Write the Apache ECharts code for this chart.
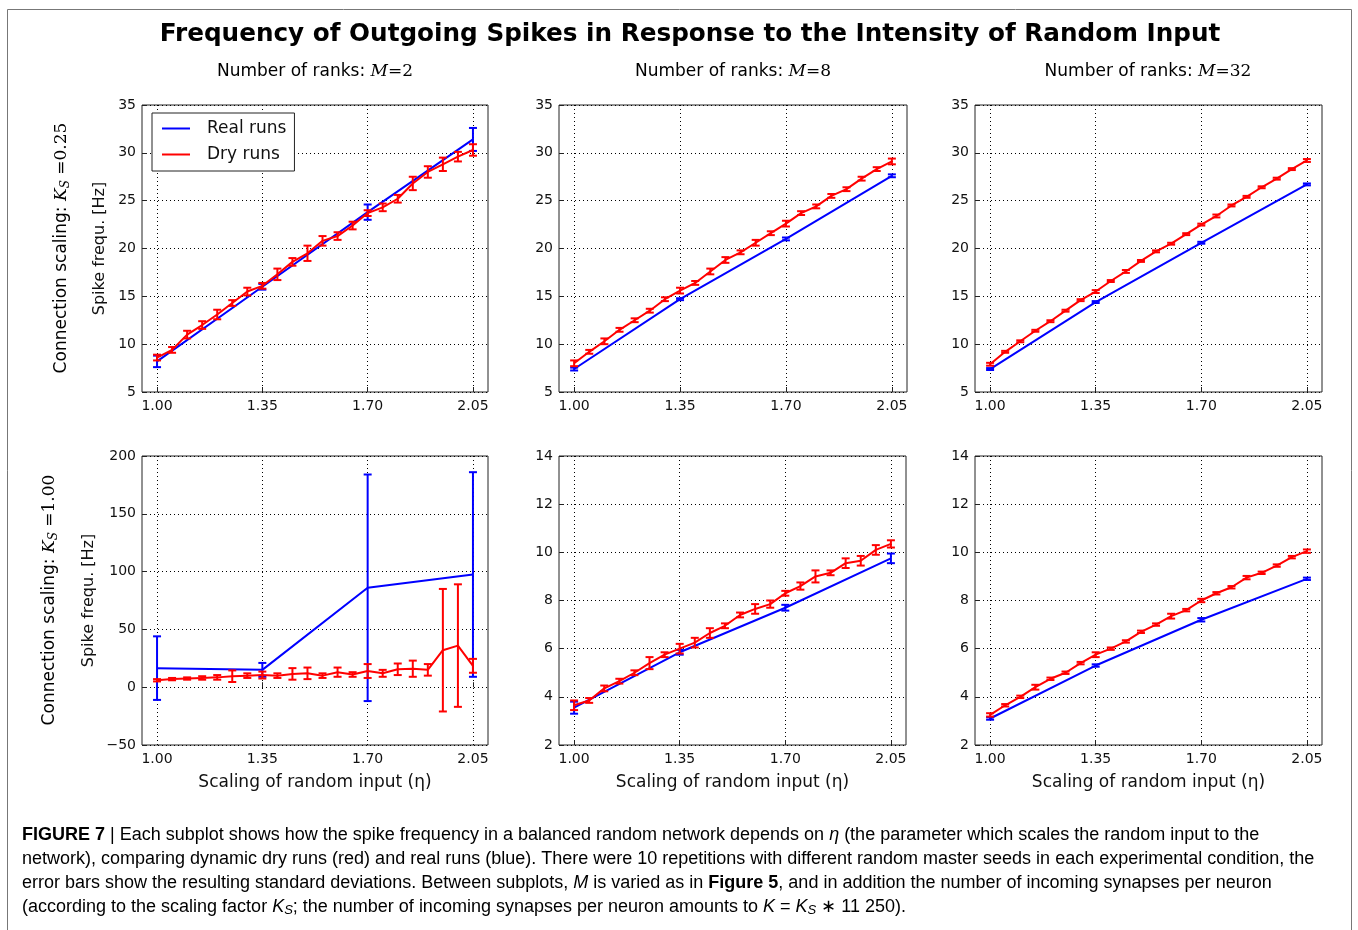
<!DOCTYPE html>
<html>
<head>
<meta charset="utf-8">
<title>Frequency of Outgoing Spikes</title>
<script src="https://cdn.jsdelivr.net/npm/echarts@6/dist/echarts.min.js"></script>
<style>
  html, body { margin: 0; padding: 0; background: #fff; }
  #chart { width: 1358px; height: 930px; }
</style>
</head>
<body>
<div id="chart"></div>
<script>
// scaling of random input (eta)
const etaDry = [1.00, 1.05, 1.10, 1.15, 1.20, 1.25, 1.30, 1.35, 1.40, 1.45, 1.50,
  1.55, 1.60, 1.65, 1.70, 1.75, 1.80, 1.85, 1.90, 1.95, 2.00, 2.05];
const etaReal = [1.00, 1.35, 1.70, 2.05];
const xTicks = [1.00, 1.35, 1.70, 2.05];

// Ks = 0.25, M = 2
const realA2 = [8.2, 16.0, 23.8, 31.4];
const realErrA2 = [0.6, 0.3, 0.8, 1.2];
const dryA2 = [8.6, 9.4, 11.0, 12.0, 13.1, 14.3, 15.5, 16.1, 17.3, 18.6, 19.5,
  20.8, 21.3, 22.4, 23.7, 24.3, 25.2, 26.8, 28.0, 28.8, 29.6, 30.3];
const dryErrA2 = [0.3, 0.3, 0.4, 0.4, 0.5, 0.3, 0.4, 0.3, 0.6, 0.4, 0.8,
  0.5, 0.4, 0.4, 0.3, 0.4, 0.4, 0.7, 0.6, 0.7, 0.5, 0.6];

// Ks = 0.25, M = 8
const realA8 = [7.4, 14.7, 21.0, 27.6];
const realErrA8 = [0.15, 0.1, 0.15, 0.15];
const dryA8 = [8.0, 9.2, 10.3, 11.5, 12.5, 13.5, 14.7, 15.6, 16.4, 17.6, 18.8,
  19.6, 20.6, 21.6, 22.6, 23.7, 24.4, 25.5, 26.2, 27.3, 28.3, 29.1];
const dryErrA8 = [0.3, 0.2, 0.3, 0.2, 0.2, 0.2, 0.2, 0.3, 0.2, 0.3, 0.3,
  0.2, 0.3, 0.2, 0.3, 0.2, 0.2, 0.2, 0.2, 0.2, 0.2, 0.3];

// Ks = 0.25, M = 32
const realA32 = [7.4, 14.4, 20.6, 26.7];
const realErrA32 = [0.1, 0.1, 0.1, 0.1];
const dryA32 = [7.9, 9.2, 10.3, 11.4, 12.4, 13.5, 14.6, 15.5, 16.6, 17.6, 18.7,
  19.7, 20.5, 21.5, 22.5, 23.4, 24.5, 25.4, 26.4, 27.3, 28.3, 29.2];
const dryErrA32 = [0.15, 0.1, 0.1, 0.1, 0.1, 0.1, 0.1, 0.15, 0.1, 0.15, 0.1,
  0.1, 0.1, 0.1, 0.1, 0.15, 0.1, 0.1, 0.1, 0.1, 0.1, 0.15];

// Ks = 1.00, M = 2
const realB2 = [16.5, 15.0, 86.0, 97.5];
const realErrB2 = [27.5, 6, 98, 88.5];
const dryB2 = [6.0, 7.0, 7.5, 8.0, 8.5, 9.5, 10.0, 10.5, 10.0, 11.5, 12.0,
  10.0, 13.0, 11.0, 14.0, 12.0, 15.5, 16.0, 15.0, 32.0, 36.0, 18.5];
const dryErrB2 = [1, 1, 1, 1.5, 2, 5, 2, 3, 2, 5, 5,
  2, 4, 2, 6, 3, 5, 7, 5, 53, 53, 6];

// Ks = 1.00, M = 8
const realB8 = [3.55, 5.85, 7.7, 9.75];
const realErrB8 = [0.25, 0.1, 0.12, 0.2];
const dryB8 = [3.65, 3.85, 4.35, 4.65, 5.0, 5.4, 5.75, 6.0, 6.25, 6.65, 6.95,
  7.4, 7.65, 7.85, 8.3, 8.6, 9.0, 9.15, 9.55, 9.65, 10.1, 10.35];
const dryErrB8 = [0.2, 0.1, 0.12, 0.1, 0.1, 0.25, 0.1, 0.2, 0.2, 0.2, 0.1,
  0.1, 0.2, 0.15, 0.1, 0.15, 0.25, 0.1, 0.2, 0.2, 0.2, 0.15];

// Ks = 1.00, M = 32
const realB32 = [3.1, 5.3, 7.2, 8.9];
const realErrB32 = [0.05, 0.05, 0.07, 0.05];
const dryB32 = [3.25, 3.65, 4.0, 4.4, 4.75, 5.0, 5.4, 5.75, 6.0, 6.3, 6.7,
  7.0, 7.35, 7.6, 8.0, 8.3, 8.55, 8.95, 9.15, 9.45, 9.8, 10.05];
const dryErrB32 = [0.07, 0.05, 0.05, 0.1, 0.05, 0.05, 0.05, 0.1, 0.05, 0.05, 0.05,
  0.05, 0.1, 0.05, 0.07, 0.05, 0.05, 0.07, 0.05, 0.05, 0.05, 0.07];

const columnRanks = ['2', '8', '32'];
const rowScaling = ['0.25', '1.00'];

const BLUE = '#0000ff';
const RED = '#ff0000';
const FONT = 'DejaVu Sans';

const panels = [
  { left: 142, top: 105, width: 346, height: 287, y: [5, 35, 5], real: realA2, realErr: realErrA2, dry: dryA2, dryErr: dryErrA2 },
  { left: 559, top: 105, width: 348, height: 287, y: [5, 35, 5], real: realA8, realErr: realErrA8, dry: dryA8, dryErr: dryErrA8 },
  { left: 975, top: 105, width: 347, height: 287, y: [5, 35, 5], real: realA32, realErr: realErrA32, dry: dryA32, dryErr: dryErrA32 },
  { left: 142, top: 456, width: 346, height: 289, y: [-50, 200, 50], real: realB2, realErr: realErrB2, dry: dryB2, dryErr: dryErrB2 },
  { left: 559, top: 456, width: 347, height: 289, y: [2, 14, 2], real: realB8, realErr: realErrB8, dry: dryB8, dryErr: dryErrB8 },
  { left: 975, top: 456, width: 347, height: 289, y: [2, 14, 2], real: realB32, realErr: realErrB32, dry: dryB32, dryErr: dryErrB32 }
];

function errorBars(color, cap) {
  return function (params, api) {
    const x = api.value(0);
    const lo = api.coord([x, api.value(1)]);
    const hi = api.coord([x, api.value(2)]);
    const style = { stroke: color, lineWidth: 2 };
    return {
      type: 'group',
      children: [
        { type: 'line', shape: { x1: lo[0], y1: lo[1], x2: hi[0], y2: hi[1] }, style: style },
        { type: 'line', shape: { x1: lo[0] - cap, y1: lo[1], x2: lo[0] + cap, y2: lo[1] }, style: style },
        { type: 'line', shape: { x1: hi[0] - cap, y1: hi[1], x2: hi[0] + cap, y2: hi[1] }, style: style }
      ]
    };
  };
}

const grid = [], xAxis = [], yAxis = [], series = [];

panels.forEach(function (p, i) {
  const bottomRow = i >= 3;
  grid.push({
    left: p.left, top: p.top, width: p.width, height: p.height,
    show: true, borderColor: '#222', borderWidth: 1, backgroundColor: 'transparent',
    containLabel: false, outerBoundsMode: 'none'
  });
  xAxis.push({
    type: 'value', gridIndex: i, min: 0.95, max: 2.10,
    name: bottomRow ? 'Scaling of random input (η)' : '',
    nameLocation: 'middle', nameGap: 29,
    nameTextStyle: { fontFamily: FONT, fontSize: 17, color: '#111' },
    axisLine: { show: false },
    axisTick: { show: true, inside: true, length: 5, customValues: xTicks, lineStyle: { color: '#222' } },
    axisLabel: {
      customValues: xTicks, margin: 7, fontFamily: FONT, fontSize: 14, color: '#111',
      formatter: function (v) { return v.toFixed(2); }
    },
    splitLine: { show: true, lineStyle: { color: '#000', type: [1, 3], width: 1 } }
  });
  yAxis.push({
    type: 'value', gridIndex: i, min: p.y[0], max: p.y[1], interval: p.y[2],
    name: (i % 3 === 0) ? 'Spike frequ. [Hz]' : '',
    nameLocation: 'middle', nameGap: i === 3 ? 45 : 34,
    nameTextStyle: { fontFamily: FONT, fontSize: 16, color: '#111' },
    axisLine: { show: false },
    axisTick: { show: true, inside: true, length: 5, lineStyle: { color: '#222' } },
    axisLabel: {
      margin: 6, fontFamily: FONT, fontSize: 14, color: '#111',
      formatter: function (v) { return v < 0 ? '\u2212' + Math.abs(v) : String(v); }
    },
    splitLine: { show: true, lineStyle: { color: '#000', type: [1, 3], width: 1 } }
  });

  series.push({
    name: 'Real runs', type: 'line', xAxisIndex: i, yAxisIndex: i,
    data: etaReal.map(function (x, k) { return [x, p.real[k]]; }),
    symbol: 'none', lineStyle: { color: BLUE, width: 2 }, itemStyle: { color: BLUE },
    animation: false, z: 2
  });
  series.push({
    name: 'Real runs err', type: 'custom', xAxisIndex: i, yAxisIndex: i,
    renderItem: errorBars(BLUE, 4),
    data: etaReal.map(function (x, k) { return [x, p.real[k] - p.realErr[k], p.real[k] + p.realErr[k]]; }),
    encode: { x: 0, y: [1, 2] }, animation: false, z: 2
  });
  series.push({
    name: 'Dry runs', type: 'line', xAxisIndex: i, yAxisIndex: i,
    data: etaDry.map(function (x, k) { return [x, p.dry[k]]; }),
    symbol: 'none', lineStyle: { color: RED, width: 2 }, itemStyle: { color: RED },
    animation: false, z: 3
  });
  series.push({
    name: 'Dry runs err', type: 'custom', xAxisIndex: i, yAxisIndex: i,
    renderItem: errorBars(RED, 4),
    data: etaDry.map(function (x, k) { return [x, p.dry[k] - p.dryErr[k], p.dry[k] + p.dryErr[k]]; }),
    encode: { x: 0, y: [1, 2] }, animation: false, z: 3
  });
});

const mathRich = {
  n: { fontFamily: FONT, fontSize: 17, color: '#111' },
  m: { fontFamily: 'DejaVu Serif', fontStyle: 'italic', fontSize: 17, color: '#111' },
  s: { fontFamily: 'DejaVu Serif', fontSize: 17, color: '#111' },
  sub: { fontFamily: 'DejaVu Serif', fontStyle: 'italic', fontSize: 12, color: '#111', padding: [8, 0, 0, 0] }
};

const capBase = { fontFamily: 'Liberation Sans', fontSize: 18, color: '#231f20' };
const capRich = {
  t: capBase,
  b: Object.assign({}, capBase, { fontWeight: 'bold' }),
  i: Object.assign({}, capBase, { fontStyle: 'italic' }),
  sub: Object.assign({}, capBase, { fontSize: 13, fontStyle: 'italic', padding: [7, 0, 0, 0] })
};
const captionLines = [
  '{b|FIGURE 7}{t| | Each subplot shows how the spike frequency in a balanced random network depends on }{i|η}{t| (the parameter which scales the random input to the}',
  '{t|network), comparing dynamic dry runs (red) and real runs (blue). There were 10 repetitions with different random master seeds in each experimental condition, the}',
  '{t|error bars show the resulting standard deviations. Between subplots, }{i|M}{t| is varied as in }{b|Figure 5}{t|, and in addition the number of incoming synapses per neuron}',
  '{t|(according to the scaling factor }{i|K}{sub|S}{t|; the number of incoming synapses per neuron amounts to }{i|K}{t| = }{i|K}{sub|S}{t| ∗ 11 250).}'
];

const graphic = [
  { type: 'rect', shape: { x: 7.5, y: 9.5, width: 1344, height: 940 }, style: { fill: 'none', stroke: '#777', lineWidth: 1 }, silent: true },
  { type: 'text', x: 690, y: 35, style: { text: 'Frequency of Outgoing Spikes in Response to the Intensity of Random Input',
    fontFamily: FONT, fontWeight: 'bold', fontSize: 24.7, fill: '#000', align: 'center', verticalAlign: 'middle' } }
];
[315, 733, 1148].forEach(function (cx, c) {
  graphic.push({ type: 'text', x: cx, y: 72, style: {
    text: '{n|Number of ranks: }{m|M}{s|=' + columnRanks[c] + '}', rich: mathRich,
    align: 'center', verticalAlign: 'middle' } });
});
[[62, 248], [50, 600]].forEach(function (pos, r) {
  graphic.push({ type: 'text', x: pos[0], y: pos[1], rotation: Math.PI / 2, style: {
    text: '{n|Connection scaling: }{m|K}{sub|S}{s| =' + rowScaling[r] + '}', rich: mathRich,
    align: 'center', verticalAlign: 'middle' } });
});
captionLines.forEach(function (line, k) {
  graphic.push({ type: 'text', x: 22, y: 835 + k * 24, style: {
    text: line, rich: capRich, align: 'left', verticalAlign: 'middle' } });
});

const chart = echarts.init(document.getElementById('chart'));
chart.setOption({
  animation: false,
  backgroundColor: '#fff',
  grid: grid,
  xAxis: xAxis,
  yAxis: yAxis,
  legend: {
    data: [
      { name: 'Real runs', icon: 'rect', itemStyle: { color: BLUE } },
      { name: 'Dry runs', icon: 'rect', itemStyle: { color: RED } }
    ],
    orient: 'vertical', left: 152, top: 113,
    itemWidth: 28, itemHeight: 2, itemGap: 9,
    padding: [7, 8, 8, 10],
    backgroundColor: '#fff', borderColor: '#222', borderWidth: 1, borderRadius: 0,
    textStyle: { fontFamily: FONT, fontSize: 17, color: '#111', padding: [0, 0, 0, 12] }
  },
  graphic: graphic,
  series: series
});
</script>
</body>
</html>
